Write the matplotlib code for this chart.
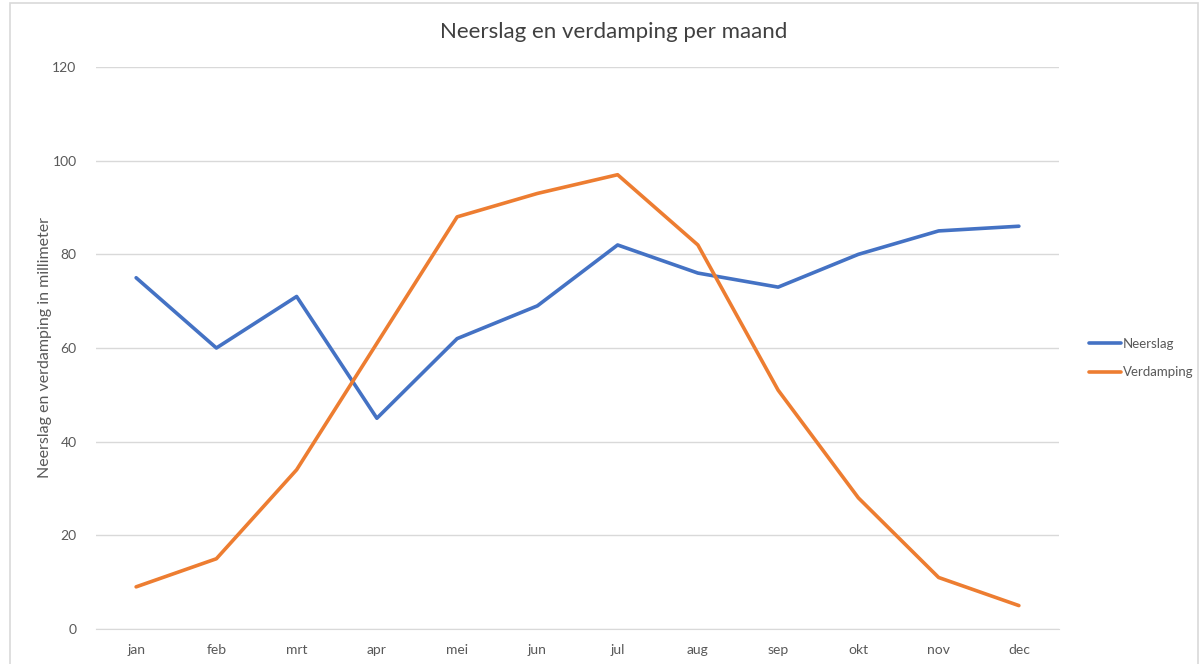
import matplotlib
matplotlib.use("Agg")
import matplotlib.pyplot as plt
from matplotlib.patches import Rectangle

months = ["jan", "feb", "mrt", "apr", "mei", "jun", "jul", "aug", "sep", "okt", "nov", "dec"]
neerslag = [75, 60, 71, 45, 62, 69, 82, 76, 73, 80, 85, 86]
verdamping = [9, 15, 34, 61, 88, 93, 97, 82, 51, 28, 11, 5]

plt.rcParams['font.family'] = ['Lato', 'DejaVu Sans']
W, H = 1202, 664
fig = plt.figure(figsize=(W / 100, H / 100), dpi=100)
fig.patch.set_facecolor("white")

# chart border
fig.patches.append(Rectangle((10 / W, -0.05), (1198 - 10) / W, (H - 3) / H + 0.05,
                             transform=fig.transFigure, fill=False,
                             edgecolor="#D9D9D9", linewidth=1.2))

ax = fig.add_axes([96 / W, (H - 629) / H, (1059 - 96) / W, (629 - 67) / H])
x = list(range(len(months)))
blue = "#4472C4"
orange = "#ED7D31"
l1, = ax.plot(x, neerslag, color=blue, linewidth=2.6, label="Neerslag", solid_capstyle="round")
l2, = ax.plot(x, verdamping, color=orange, linewidth=2.6, label="Verdamping", solid_capstyle="round")

ax.set_xlim(-0.5, len(months) - 0.5)
ax.set_ylim(0, 120)
ax.set_yticks(range(0, 121, 20))
ax.set_xticks(x)
ax.set_xticklabels(months)
ax.grid(axis="y", color="#D9D9D9", linewidth=1)
ax.set_axisbelow(True)
for s in ["top", "right", "left"]:
    ax.spines[s].set_visible(False)
ax.spines["bottom"].set_color("#D9D9D9")
ax.tick_params(axis="both", length=0, labelsize=10, colors="#595959")
ax.tick_params(axis="x", pad=11)
ax.tick_params(axis="y", pad=14)

ax.set_ylabel("Neerslag en verdamping in millimeter", fontsize=11.5, color="#595959")
ax.yaxis.set_label_coords(-(96 - 52) / (1059 - 96), 0.5)

fig.text(614 / W, (H - 32) / H, "Neerslag en verdamping per maand", ha="center", va="center",
         fontsize=16, color="#404040")

leg = fig.legend(handles=[l1, l2], loc="upper left", bbox_to_anchor=(1077 / W, (H - 326) / H),
                 frameon=False, fontsize=9.5, handlelength=2.4, handletextpad=0.2,
                 labelspacing=1.25, labelcolor="#595959")

fig.savefig("out.png", dpi=100, facecolor="white")
